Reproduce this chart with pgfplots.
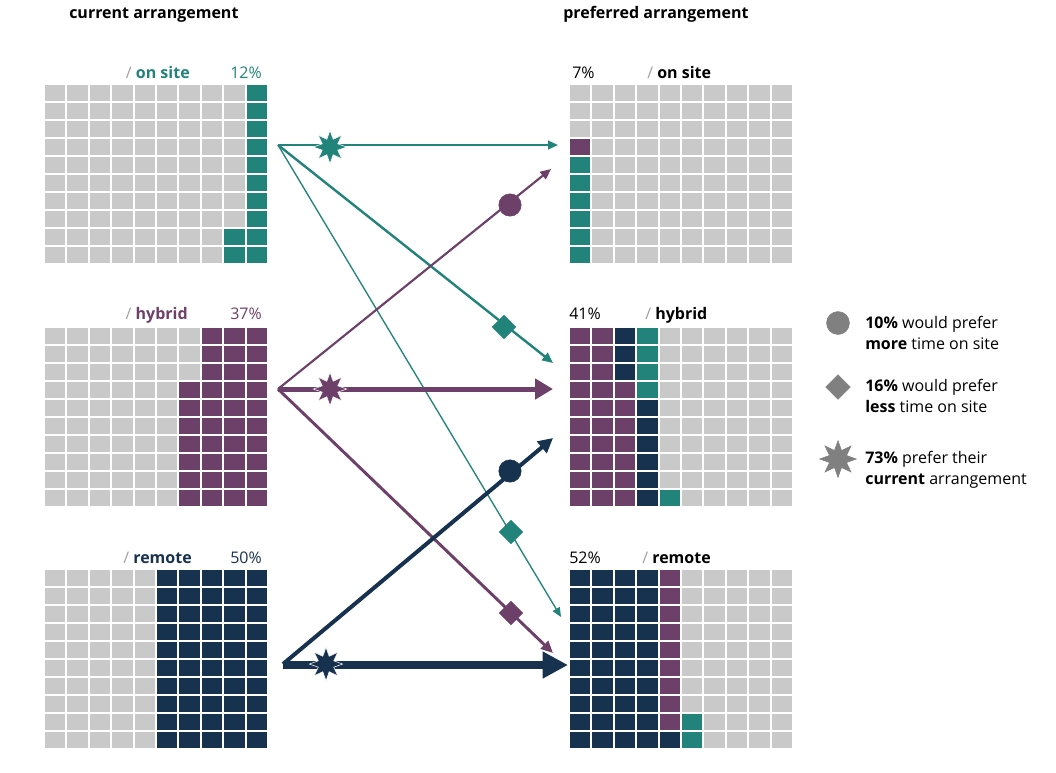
\documentclass[border=0pt]{standalone}
\usepackage{pgfplots}
\pgfplotsset{compat=1.18}
\usetikzlibrary{arrows.meta}
\usepackage{fontspec}
\setmainfont{Open Sans}

\definecolor{onsite}{HTML}{21837A}
\definecolor{hybrid}{HTML}{6D4069}
\definecolor{remote}{HTML}{17324F}
\definecolor{cellgrey}{HTML}{C9C9C9}
\definecolor{keygrey}{HTML}{808080}
\definecolor{slash}{HTML}{A0A0A0}

% eight-pointed star
\pgfdeclareplotmark{star8}{%
  \pgfpathmoveto{\pgfqpointpolar{90}{\pgfplotmarksize}}%
  \pgfpathlineto{\pgfqpointpolar{112.5}{0.5\pgfplotmarksize}}%
  \pgfpathlineto{\pgfqpointpolar{135}{\pgfplotmarksize}}%
  \pgfpathlineto{\pgfqpointpolar{157.5}{0.5\pgfplotmarksize}}%
  \pgfpathlineto{\pgfqpointpolar{180}{\pgfplotmarksize}}%
  \pgfpathlineto{\pgfqpointpolar{202.5}{0.5\pgfplotmarksize}}%
  \pgfpathlineto{\pgfqpointpolar{225}{\pgfplotmarksize}}%
  \pgfpathlineto{\pgfqpointpolar{247.5}{0.5\pgfplotmarksize}}%
  \pgfpathlineto{\pgfqpointpolar{270}{\pgfplotmarksize}}%
  \pgfpathlineto{\pgfqpointpolar{292.5}{0.5\pgfplotmarksize}}%
  \pgfpathlineto{\pgfqpointpolar{315}{\pgfplotmarksize}}%
  \pgfpathlineto{\pgfqpointpolar{337.5}{0.5\pgfplotmarksize}}%
  \pgfpathlineto{\pgfqpointpolar{0}{\pgfplotmarksize}}%
  \pgfpathlineto{\pgfqpointpolar{22.5}{0.5\pgfplotmarksize}}%
  \pgfpathlineto{\pgfqpointpolar{45}{\pgfplotmarksize}}%
  \pgfpathlineto{\pgfqpointpolar{67.5}{0.5\pgfplotmarksize}}%
  \pgfpathclose\pgfusepathqfillstroke}

\newcommand{\lab}{\fontsize{12pt}{14pt}\selectfont}
\pgfplotsset{
  waffle/.style={
    scale only axis, width=168pt, height=135pt, anchor=north west,
    xmin=0, xmax=10, ymin=0, ymax=10,
    xtick={0,...,10}, ytick={0,...,10},
    xticklabels={}, yticklabels={},
    grid=major, major grid style={white, line width=1.4pt},
    tick style={draw=none}, axis line style={draw=none},
    axis background/.style={fill=cellgrey},
    axis on top,
  },
  cell/.style={draw=none, fill=#1},
}
\tikzset{txt/.style={inner sep=0pt, font=\lab}}

\begin{document}
\begin{tikzpicture}
% ---- current arrangement
\begin{axis}[waffle, at={(33pt,-63pt)}]
  \addplot[cell=onsite] coordinates {(8,0)(10,0)(10,10)(9,10)(9,2)(8,2)} -- cycle;
\end{axis}
\begin{axis}[waffle, at={(33pt,-245.25pt)}]
  \addplot[cell=hybrid] coordinates {(6,0)(10,0)(10,10)(7,10)(7,7)(6,7)} -- cycle;
\end{axis}
\begin{axis}[waffle, at={(33pt,-426.75pt)}]
  \addplot[cell=remote] coordinates {(5,0)(10,0)(10,10)(5,10)} -- cycle;
\end{axis}
% ---- preferred arrangement
\begin{axis}[waffle, at={(426.75pt,-63pt)}]
  \addplot[cell=onsite] coordinates {(0,0)(1,0)(1,6)(0,6)} -- cycle;
  \addplot[cell=hybrid] coordinates {(0,6)(1,6)(1,7)(0,7)} -- cycle;
\end{axis}
\begin{axis}[waffle, at={(426.75pt,-245.25pt)}]
  \addplot[cell=hybrid] coordinates {(0,0)(3,0)(3,7)(2,7)(2,10)(0,10)} -- cycle;
  \addplot[cell=remote] coordinates {(2,7)(3,7)(3,10)(2,10)} -- cycle;
  \addplot[cell=remote] coordinates {(3,0)(4,0)(4,6)(3,6)} -- cycle;
  \addplot[cell=onsite] coordinates {(3,6)(4,6)(4,10)(3,10)} -- cycle;
  \addplot[cell=onsite] coordinates {(4,0)(5,0)(5,1)(4,1)} -- cycle;
\end{axis}
\begin{axis}[waffle, at={(426.75pt,-426.75pt)}]
  \addplot[cell=remote] coordinates {(0,0)(5,0)(5,1)(4,1)(4,10)(0,10)} -- cycle;
  \addplot[cell=hybrid] coordinates {(4,1)(5,1)(5,10)(4,10)} -- cycle;
  \addplot[cell=onsite] coordinates {(5,0)(6,0)(6,2)(5,2)} -- cycle;
\end{axis}

% ---- flows, labels and key (pixel coordinates, y downwards)
\begin{axis}[
  at={(0pt,0pt)}, anchor=north west,
  scale only axis, width=792pt, height=579pt,
  xmin=0, xmax=1056, ymin=0, ymax=772, y dir=reverse,
  hide axis, clip=false,
]
  \path (axis cs:0,0) rectangle (axis cs:1056,772);

  % from on site
  \addplot[onsite, line width=1.5pt, -{Triangle[length=7.5pt, width=6.5pt]}]
    coordinates {(278,145)(558,145)};
  \addplot[onsite, line width=1.8pt, -{Triangle[length=8pt, width=7pt]}]
    coordinates {(278,145)(553,363)};
  \addplot[onsite, line width=1pt, -{Triangle[length=7pt, width=6pt]}]
    coordinates {(278,145)(561,617)};
  % from hybrid
  \addplot[hybrid, line width=1.6pt, -{Triangle[length=8pt, width=7pt]}]
    coordinates {(278,389)(551,169)};
  \addplot[hybrid, line width=3.75pt, -{Triangle[length=13.5pt, width=15pt]}]
    coordinates {(278,389)(553,389)};
  \addplot[hybrid, line width=2.2pt, -{Triangle[length=9pt, width=8pt]}]
    coordinates {(278,389)(553,653)};
  % from remote
  \addplot[remote, line width=3pt, -{Triangle[length=11pt, width=11pt]}]
    coordinates {(283,664)(553,438)};
  \addplot[remote, line width=6pt, -{Triangle[length=19pt, width=19pt]}]
    coordinates {(283,665)(568,665)};

  % markers on the flows
  \addplot[onsite, only marks, mark=star8, mark size=12.5pt, mark options={fill=onsite, draw=white, line width=0.4pt}]
    coordinates {(330,147)};
  \addplot[hybrid, only marks, mark=star8, mark size=12.5pt, mark options={fill=hybrid, draw=white, line width=0.4pt}]
    coordinates {(330,389)};
  \addplot[remote, only marks, mark=star8, mark size=12.5pt, mark options={fill=remote, draw=white, line width=0.4pt}]
    coordinates {(326,664)};
  \addplot[onsite, only marks, mark=square*, mark size=6.2pt, mark options={rotate=45}]
    coordinates {(504,327) (511,532)};
  \addplot[hybrid, only marks, mark=square*, mark size=6.2pt, mark options={rotate=45}]
    coordinates {(511,613)};
  \addplot[hybrid, only marks, mark=*, mark size=8.4pt]
    coordinates {(510,205)};
  \addplot[remote, only marks, mark=*, mark size=8.4pt]
    coordinates {(510,471)};

  % headers
  \node[txt, anchor=base west, font=\lab\bfseries] at (axis cs:69,18) {current arrangement};
  \node[txt, anchor=base west, font=\lab\bfseries] at (axis cs:563,18) {preferred arrangement};

  % labels, current
  \node[txt, anchor=base east, text=onsite] at (axis cs:190,78) {\textcolor{slash}{/} \textbf{on site}};
  \node[txt, anchor=base east, text=onsite] at (axis cs:262,78) {12\%};
  \node[txt, anchor=base east, text=hybrid] at (axis cs:188,319) {\textcolor{slash}{/} \textbf{hybrid}};
  \node[txt, anchor=base east, text=hybrid] at (axis cs:262,319) {37\%};
  \node[txt, anchor=base east, text=remote] at (axis cs:192,563) {\textcolor{slash}{/} \textbf{remote}};
  \node[txt, anchor=base east, text=remote] at (axis cs:262,563) {50\%};
  % labels, preferred
  \node[txt, anchor=base west] at (axis cs:572,78) {7\%};
  \node[txt, anchor=base west] at (axis cs:647,78) {\textcolor{slash}{/} \textbf{on site}};
  \node[txt, anchor=base west] at (axis cs:569,319) {41\%};
  \node[txt, anchor=base west] at (axis cs:645,319) {\textcolor{slash}{/} \textbf{hybrid}};
  \node[txt, anchor=base west] at (axis cs:569,563) {52\%};
  \node[txt, anchor=base west] at (axis cs:642,563) {\textcolor{slash}{/} \textbf{remote}};

  % key
  \addplot[keygrey, only marks, mark=*, mark size=8.6pt]
    coordinates {(838,323)};
  \addplot[keygrey, only marks, mark=square*, mark size=6.5pt, mark options={rotate=45}]
    coordinates {(838,387)};
  \addplot[keygrey, only marks, mark=star8, mark size=13.8pt]
    coordinates {(838,459)};
  \node[txt, anchor=base west] at (axis cs:865,328) {\textbf{10\%} would prefer};
  \node[txt, anchor=base west] at (axis cs:865,349) {\textbf{more} time on site};
  \node[txt, anchor=base west] at (axis cs:865,391) {\textbf{16\%} would prefer};
  \node[txt, anchor=base west] at (axis cs:865,412) {\textbf{less} time on site};
  \node[txt, anchor=base west] at (axis cs:865,463) {\textbf{73\%} prefer their};
  \node[txt, anchor=base west] at (axis cs:865,484) {\textbf{current} arrangement};
\end{axis}
\end{tikzpicture}
\end{document}
